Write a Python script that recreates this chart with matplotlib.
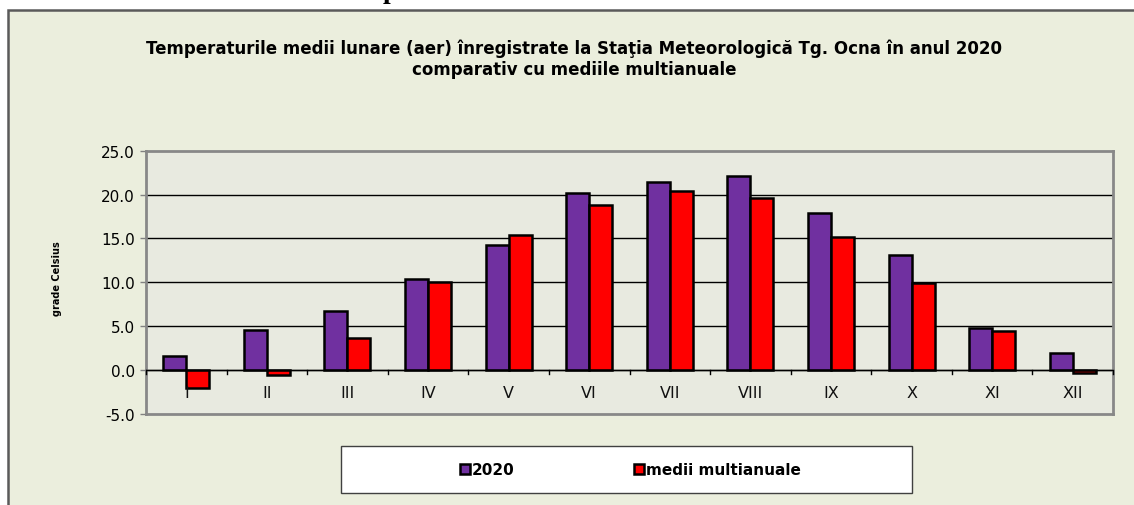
import matplotlib
matplotlib.use("Agg")
import matplotlib.pyplot as plt
from matplotlib.patches import Rectangle, Patch
import numpy as np

months = ["I", "II", "III", "IV", "V", "VI", "VII", "VIII", "IX", "X", "XI", "XII"]
t2020 = [1.6, 4.6, 6.7, 10.4, 14.2, 20.2, 21.4, 22.1, 17.9, 13.1, 4.8, 1.9]
multi = [-2.0, -0.5, 3.7, 10.0, 15.4, 18.8, 20.4, 19.6, 15.2, 9.9, 4.4, -0.3]
series_names = ["2020", "medii multianuale"]
title = ("Temperaturile medii lunare (aer) înregistrate la Staţia Meteorologică Tg. Ocna în anul 2020\n"
         "comparativ cu mediile multianuale")
ylabel = "grade Celsius"
yticks = [-5.0, 0.0, 5.0, 10.0, 15.0, 20.0, 25.0]

W, H = 1134, 506
fig = plt.figure(figsize=(W / 100, H / 100), dpi=100)
fig.patch.set_facecolor("white")
font = "DejaVu Sans"

outer_bg = "#EBEEDD"
plot_bg = "#E8EAE0"
purple = "#7030A0"
red = "#FF0000"

# outer chart box
fig.patches.append(Rectangle((8 / W, -0.1), 1.2, (H - 11) / H + 0.1, transform=fig.transFigure,
                             facecolor=outer_bg, edgecolor="#5A5A5A", linewidth=1.8, zorder=-5))

# clipped heading above
fig.text(390 / W, 1 + 2 / H, "p", family="Liberation Serif", weight="bold", fontsize=20,
         ha="center", va="baseline", color="black")

ax = fig.add_axes([146 / W, 1 - 415 / H, (1113 - 146) / W, (415 - 151.7) / H])
ax.set_zorder(2)
ax.set_facecolor(plot_bg)
x = np.arange(len(months))
bw = 0.285
ax.bar(x - bw / 2, t2020, width=bw, color=purple, edgecolor="black", linewidth=1.8, zorder=3)
ax.bar(x + bw / 2, multi, width=bw, color=red, edgecolor="black", linewidth=1.8, zorder=3)

ax.set_xlim(-0.5, len(months) - 0.5)
ax.set_ylim(-5, 25)
ax.set_yticks(yticks)
ax.set_yticklabels([f"{v:.1f}" for v in yticks], family=font, fontsize=11)
for v in yticks[1:-1]:
    ax.axhline(v, color="black", linewidth=1.0, zorder=1)
ax.axhline(0, color="black", linewidth=1.0, zorder=4)
# category boundary ticks on zero line
for b in np.arange(-0.5, len(months) + 0.5, 1.0):
    ax.plot([b, b], [0, -0.45], color="black", linewidth=1.0, zorder=4, clip_on=False)
for xi, m in zip(x, months):
    ax.text(xi, -2.6, m, ha="center", va="center", family=font, fontsize=11.5, color="#111111")

ax.set_xticks([])
ax.tick_params(axis="y", direction="out", length=4, width=1, color="#808080", pad=4)
for s in ax.spines.values():
    s.set_color("#888888")
    s.set_linewidth(2)

fig.text(574 / W, 1 - 59 / H, title, ha="center", va="center", family=font, weight="bold",
         fontsize=12, linespacing=1.25)
fig.text(57 / W, 1 - 279 / H, ylabel, rotation=90, ha="center", va="center", family=font,
         weight="bold", fontsize=7)

# legend
lx0, lx1, ly0, ly1 = 341, 912, 447, 494
fig.patches.append(Rectangle((lx0 / W, 1 - ly1 / H), (lx1 - lx0) / W, (ly1 - ly0) / H,
                             transform=fig.transFigure, facecolor="white", edgecolor="#404040",
                             linewidth=1.0, zorder=5))
handles = [Patch(facecolor=purple, edgecolor="black", linewidth=1.8),
           Patch(facecolor=red, edgecolor="black", linewidth=1.8)]
leg = fig.legend(handles, series_names, loc="center", bbox_to_anchor=((lx0 + lx1) / 2 / W + 4 / W, 1 - (ly0 + ly1) / 2 / H),
                 ncol=2, frameon=False, prop={"family": font, "weight": "bold", "size": 11},
                 handlelength=0.65, handleheight=0.65, handletextpad=0.15, columnspacing=7.8)
leg.set_zorder(6)

fig.savefig("out.png", dpi=100, facecolor=fig.get_facecolor())
